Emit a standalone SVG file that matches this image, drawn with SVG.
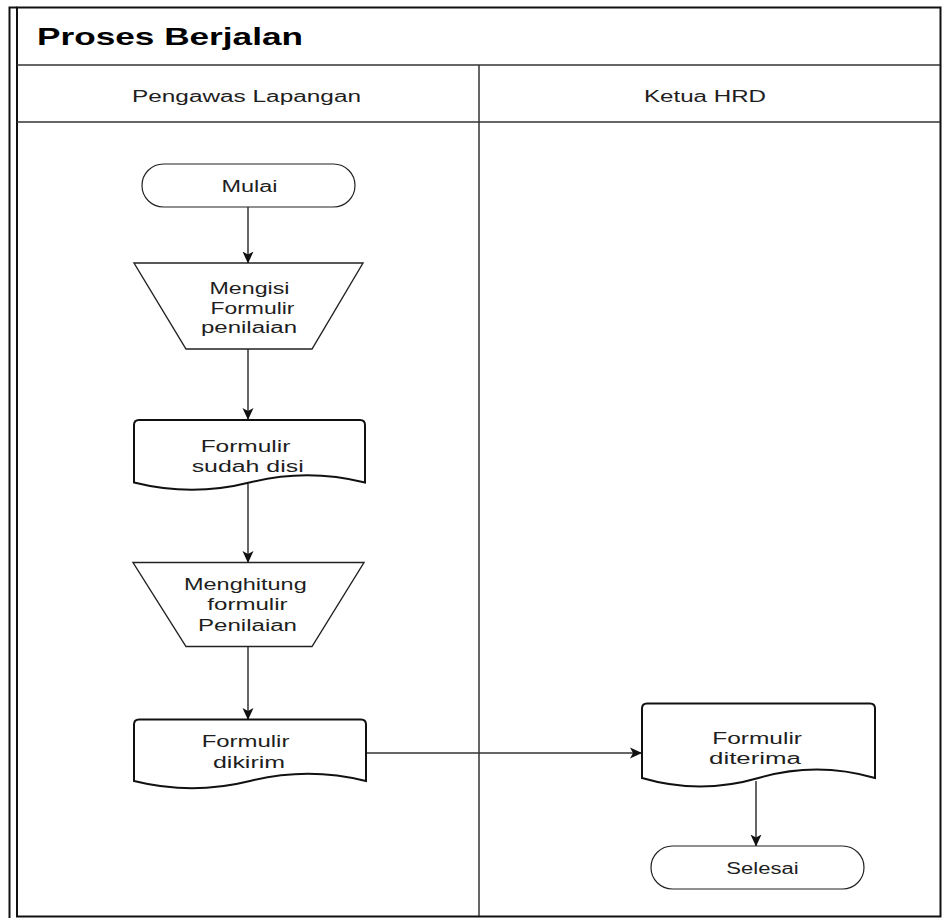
<svg xmlns="http://www.w3.org/2000/svg" width="942" height="918" viewBox="0 0 942 918">
<style>
text{font-family:"Liberation Sans",Arial,sans-serif;font-size:16px;fill:#1e1e1e}
.title{font-size:24px;font-weight:bold;fill:#000}
.frame{fill:none;stroke:#111;stroke-width:2}
.sep{fill:none;stroke:#333;stroke-width:1.5}
.term{fill:#fff;stroke:#222;stroke-width:1.2}
.trap{fill:#fff;stroke:#222;stroke-width:1.4}
.doc{fill:#fff;stroke:#111;stroke-width:2}
.edge{fill:none;stroke:#333;stroke-width:1.5}
</style>
<defs>
<marker id="arr" viewBox="0 0 12 12" refX="11.5" refY="6" markerWidth="12" markerHeight="12" markerUnits="userSpaceOnUse" orient="auto">
<path d="M0,0.5 L12,6 L0,11.5 L3,6 Z" fill="#111"/>
</marker>
</defs>
<rect width="942" height="918" fill="#fff"/>
<g id="pool">
<path class="frame" d="M9.5,918 V7.5 H17"/>
<rect class="frame" x="17" y="7.5" width="923.5" height="909"/>
<line class="sep" x1="17" y1="65" x2="940" y2="65"/>
<line class="sep" x1="17" y1="122" x2="940" y2="122"/>
<line class="sep" x1="479" y1="65" x2="479" y2="916"/>
<text class="title" x="37" y="45" textLength="266" lengthAdjust="spacingAndGlyphs">Proses Berjalan</text>
</g>
<g id="lane-pengawas">
<text x="132" y="102" textLength="229" lengthAdjust="spacingAndGlyphs">Pengawas Lapangan</text>
</g>
<g id="lane-hrd">
<text x="644" y="102" textLength="122" lengthAdjust="spacingAndGlyphs">Ketua HRD</text>
</g>
<g id="edges">
<line class="edge" x1="248" y1="207" x2="248" y2="263" marker-end="url(#arr)"/>
<line class="edge" x1="248" y1="349" x2="248" y2="419.5" marker-end="url(#arr)"/>
<line class="edge" x1="248" y1="484" x2="248" y2="562.5" marker-end="url(#arr)"/>
<line class="edge" x1="248" y1="646.5" x2="248" y2="719.5" marker-end="url(#arr)"/>
<line class="edge" x1="366" y1="753" x2="641.5" y2="753" marker-end="url(#arr)"/>
<line class="edge" x1="756" y1="781" x2="756" y2="846" marker-end="url(#arr)"/>
</g>
<g id="mulai">
<rect class="term" x="142" y="164" width="213" height="43" rx="21.5"/>
<text x="221.5" y="191.5" textLength="56" lengthAdjust="spacingAndGlyphs">Mulai</text>
</g>
<g id="mengisi">
<polygon class="trap" points="134,263 363,263 312,349 186,349"/>
<text x="209.5" y="294" textLength="80" lengthAdjust="spacingAndGlyphs">Mengisi</text>
<text x="210.5" y="314" textLength="84" lengthAdjust="spacingAndGlyphs">Formulir</text>
<text x="201" y="333" textLength="96" lengthAdjust="spacingAndGlyphs">penilaian</text>
</g>
<g id="formulir-sudah-disi">
<path class="doc" d="M134,482.5 V425 Q134,420 139,420 H360 Q365,420 365,425 V482.5 Q307,468 249.5,482.5 Q192,497 134,482.5 Z"/>
<text x="200.7" y="452" textLength="89.7" lengthAdjust="spacingAndGlyphs">Formulir</text>
<text x="191.7" y="472" textLength="112" lengthAdjust="spacingAndGlyphs">sudah disi</text>
</g>
<g id="menghitung">
<polygon class="trap" points="133,562.5 364,562.5 312,646.5 186,646.5"/>
<text x="184" y="589.5" textLength="122.7" lengthAdjust="spacingAndGlyphs">Menghitung</text>
<text x="207.3" y="610" textLength="80.3" lengthAdjust="spacingAndGlyphs">formulir</text>
<text x="198" y="630.5" textLength="99" lengthAdjust="spacingAndGlyphs">Penilaian</text>
</g>
<g id="formulir-dikirim">
<path class="doc" d="M134,781 V724.5 Q134,719.5 139,719.5 H361 Q366,719.5 366,724.5 V781 Q308,766.5 250,781 Q192,795.5 134,781 Z"/>
<text x="201.7" y="746.5" textLength="87.7" lengthAdjust="spacingAndGlyphs">Formulir</text>
<text x="213" y="768" textLength="72" lengthAdjust="spacingAndGlyphs">dikirim</text>
</g>
<g id="formulir-diterima">
<path class="doc" d="M642,778 V708.5 Q642,703.5 647,703.5 H870 Q875,703.5 875,708.5 V778 Q816.5,761 758.5,778 Q700,795 642,778 Z"/>
<text x="712.3" y="744" textLength="89.7" lengthAdjust="spacingAndGlyphs">Formulir</text>
<text x="709" y="763.5" textLength="92" lengthAdjust="spacingAndGlyphs">diterima</text>
</g>
<g id="selesai">
<rect class="term" x="651" y="846" width="213" height="43" rx="21.5"/>
<text x="726.3" y="874" textLength="72.3" lengthAdjust="spacingAndGlyphs">Selesai</text>
</g>
</svg>
